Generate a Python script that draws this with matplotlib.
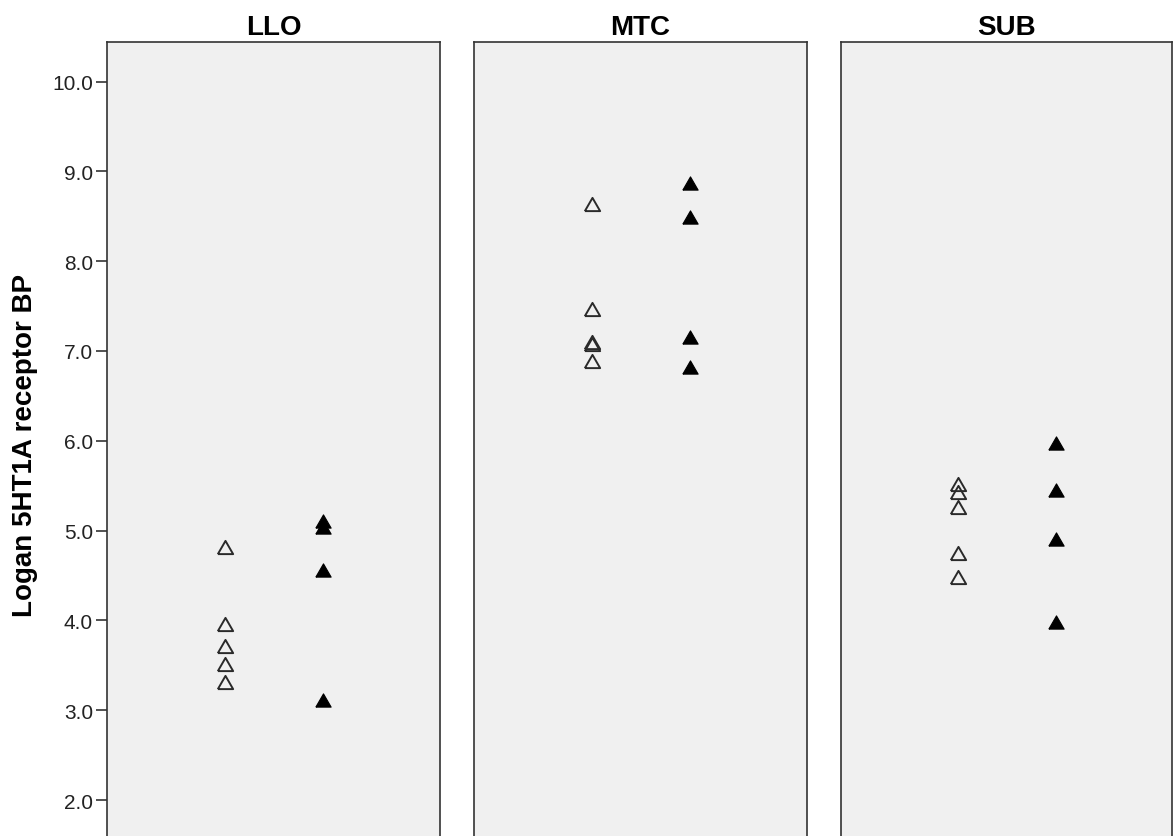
"""
Logan 5HT1A receptor BP par region (LLO / MTC / SUB), deux groupes.
Reproduction d'un graphique style SPSS.
"""

import matplotlib
matplotlib.use("Agg")
import matplotlib.pyplot as plt
import matplotlib.ticker as mticker

plt.rcParams["font.family"] = ["Liberation Sans", "DejaVu Sans"]

# -- Donnees --
REGIONS = ["LLO", "MTC", "SUB"]
GROUP_POS = [1, 2]          # groupe 1 = triangles vides, groupe 2 = triangles pleins

llo_open   = [4.82, 3.96, 3.72, 3.52, 3.31]
llo_filled = [5.11, 5.04, 4.56, 3.11]
mtc_open   = [8.64, 7.47, 7.10, 7.08, 6.89]
mtc_filled = [8.87, 8.49, 7.16, 6.82]
sub_open   = [5.52, 5.43, 5.26, 4.75, 4.48]
sub_filled = [5.97, 5.45, 4.91, 3.98]

Y_TICKS = [2.0, 3.0, 4.0, 5.0, 6.0, 7.0, 8.0, 9.0, 10.0]

OPEN   = [llo_open, mtc_open, sub_open]
FILLED = [llo_filled, mtc_filled, sub_filled]

# triangle centre sur sa boite (largeur 2, hauteur ~1.73)
TRI = [(-1, -0.866), (1, -0.866), (0, 0.866), (-1, -0.866)]

W, H = 1174, 837
fig = plt.figure(figsize=(W / 100, H / 100), dpi=100)
fig.patch.set_facecolor("white")

panel_left = [107, 474, 841]
panel_w = [333, 333, 331]
top_px = 43

for k, region in enumerate(REGIONS):
    ax = fig.add_axes([panel_left[k] / W, 0, panel_w[k] / W, 1 - top_px / H])
    ax.set_facecolor("#F0F0F0")

    ax.plot([GROUP_POS[0]] * len(OPEN[k]), OPEN[k], linestyle="none",
            marker=TRI, markersize=11, markerfacecolor="none",
            markeredgecolor="#2a2a2a", markeredgewidth=1.4)
    ax.plot([GROUP_POS[1]] * len(FILLED[k]), FILLED[k], linestyle="none",
            marker=TRI, markersize=11, markerfacecolor="black",
            markeredgecolor="black", markeredgewidth=0.8)

    ax.set_xlim(-0.2, 3.19)
    ax.set_ylim(1.60, 10.44)
    ax.set_xticks([])

    for side in ["left", "right", "top"]:
        ax.spines[side].set_color("#333333")
        ax.spines[side].set_linewidth(1.2)
    ax.spines["bottom"].set_visible(False)

    ax.set_title(region, fontsize=20, fontweight="bold", pad=6)

    if k == 0:
        ax.set_yticks(Y_TICKS)
        ax.yaxis.set_major_formatter(mticker.FormatStrFormatter("%.1f"))
        ax.tick_params(axis="y", direction="out", length=8, width=1.2,
                       color="#333333", labelsize=15, labelcolor="#222222", pad=2)
    else:
        ax.set_yticks([])

fig.text(25 / W, 1 - 445 / H, "Logan 5HT1A receptor BP", rotation=90,
         ha="center", va="center", fontsize=20, fontweight="bold")

fig.savefig("out.png", dpi=100)
plt.close(fig)
